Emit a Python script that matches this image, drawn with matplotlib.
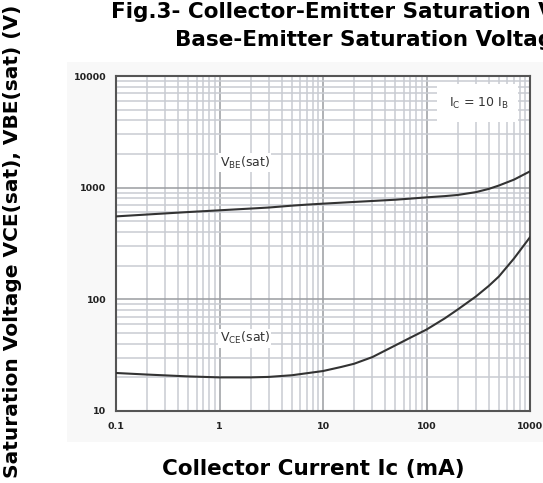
import matplotlib
matplotlib.use("Agg")
import matplotlib.pyplot as plt
from matplotlib.patches import Rectangle

# values (Ic in mA, voltages in mV)
ic = [0.1, 0.2, 0.5, 1, 2, 3, 5, 7, 10, 15, 20, 30, 50, 70, 100, 150, 200, 300, 400, 500, 700, 1000]
vbe_sat = [553, 575, 605, 627, 650, 664, 690, 705, 719, 734, 745, 760, 780, 798, 819, 840, 860, 912, 975, 1045, 1180, 1400]
vce_sat = [21.9, 21.2, 20.4, 20.0, 20.0, 20.2, 20.9, 21.8, 22.8, 24.8, 26.5, 30.4, 38.7, 45.4, 53.6, 67.5, 81, 106, 132, 160, 232, 360]

x_ticks = [0.1, 1, 10, 100, 1000]
x_ticklabels = ["0.1", "1", "10", "100", "1000"]
y_ticks = [10, 100, 1000, 10000]
y_ticklabels = ["10", "100", "1000", "10000"]

plt.rcParams['font.family'] = ['DejaVu Sans']

W, H = 543, 483
fig = plt.figure(figsize=(W / 100, H / 100), dpi=100)
fig.patch.set_facecolor("white")

# faint grey panel behind the chart
panel = Rectangle((67 / W, (H - 442) / H), (W - 67) / W, (442 - 62) / H,
                  transform=fig.transFigure, fc="#f8f8f8", ec="none", zorder=-1)
fig.add_artist(panel)

ax = fig.add_axes([116 / W, 72 / H, 414 / W, 335 / H])
ax.set_zorder(1)
ax.set_facecolor("white")
ax.set_xscale("log")
ax.set_yscale("log")
ax.set_xlim(0.1, 1000)
ax.set_ylim(10, 10000)

ax.set_axisbelow(True)
ax.grid(True, which="major", color="#9a9ca0", lw=1.1)
ax.grid(True, which="minor", color="#c9ccd2", lw=1.1)
for s in ax.spines.values():
    s.set_color("#555555")
    s.set_linewidth(1.5)

ax.set_xticks(x_ticks)
ax.set_xticklabels(x_ticklabels)
ax.set_yticks(y_ticks)
ax.set_yticklabels(y_ticklabels)
ax.tick_params(which="both", length=0)
ax.tick_params(axis="x", pad=8, labelsize=6.8, labelcolor="#222222")
ax.tick_params(axis="y", pad=7, labelsize=6.8, labelcolor="#222222")
for lab in ax.get_xticklabels() + ax.get_yticklabels():
    lab.set_fontweight("bold")

ax.plot(ic, vbe_sat, color="#333333", lw=1.5, zorder=3)
ax.plot(ic, vce_sat, color="#333333", lw=1.5, zorder=3)

# white box behind the condition note
ax.add_patch(Rectangle((0.775, 0.863), 0.196, 0.113, transform=ax.transAxes,
                       fc="white", ec="none", zorder=1))
ax.text(319, 5730, r"I$_{\rm C}$ = 10 I$_{\rm B}$", fontsize=9, color="#333333",
        ha="center", va="center", zorder=4)

ax.text(1.0, 1675, r"V$_{\rm BE}$(sat)", fontsize=9, color="#333333",
        ha="left", va="center", zorder=4,
        bbox=dict(fc="white", ec="none", pad=1))
ax.text(1.0, 44.8, r"V$_{\rm CE}$(sat)", fontsize=9, color="#333333",
        ha="left", va="center", zorder=4,
        bbox=dict(fc="white", ec="none", pad=1))

# titles and axis labels (title runs past the right edge, as in the reference)
fig.text(111 / W, 1 - 18.5 / H, "Fig.3- Collector-Emitter Saturation Voltage and",
         fontsize=15.5, fontweight="bold", ha="left", va="baseline")
fig.text(175 / W, 1 - 46.5 / H, "Base-Emitter Saturation Voltage",
         fontsize=15.5, fontweight="bold", ha="left", va="baseline")
fig.text(313 / W, 8 / H, "Collector Current Ic (mA)",
         fontsize=15.5, fontweight="bold", ha="center", va="baseline")
fig.text(12.5 / W, 1 - 241 / H, "Saturation Voltage VCE(sat), VBE(sat) (V)",
         fontsize=14.5, fontweight="bold", ha="center", va="center", rotation=90)

fig.savefig("out.png", dpi=100)
